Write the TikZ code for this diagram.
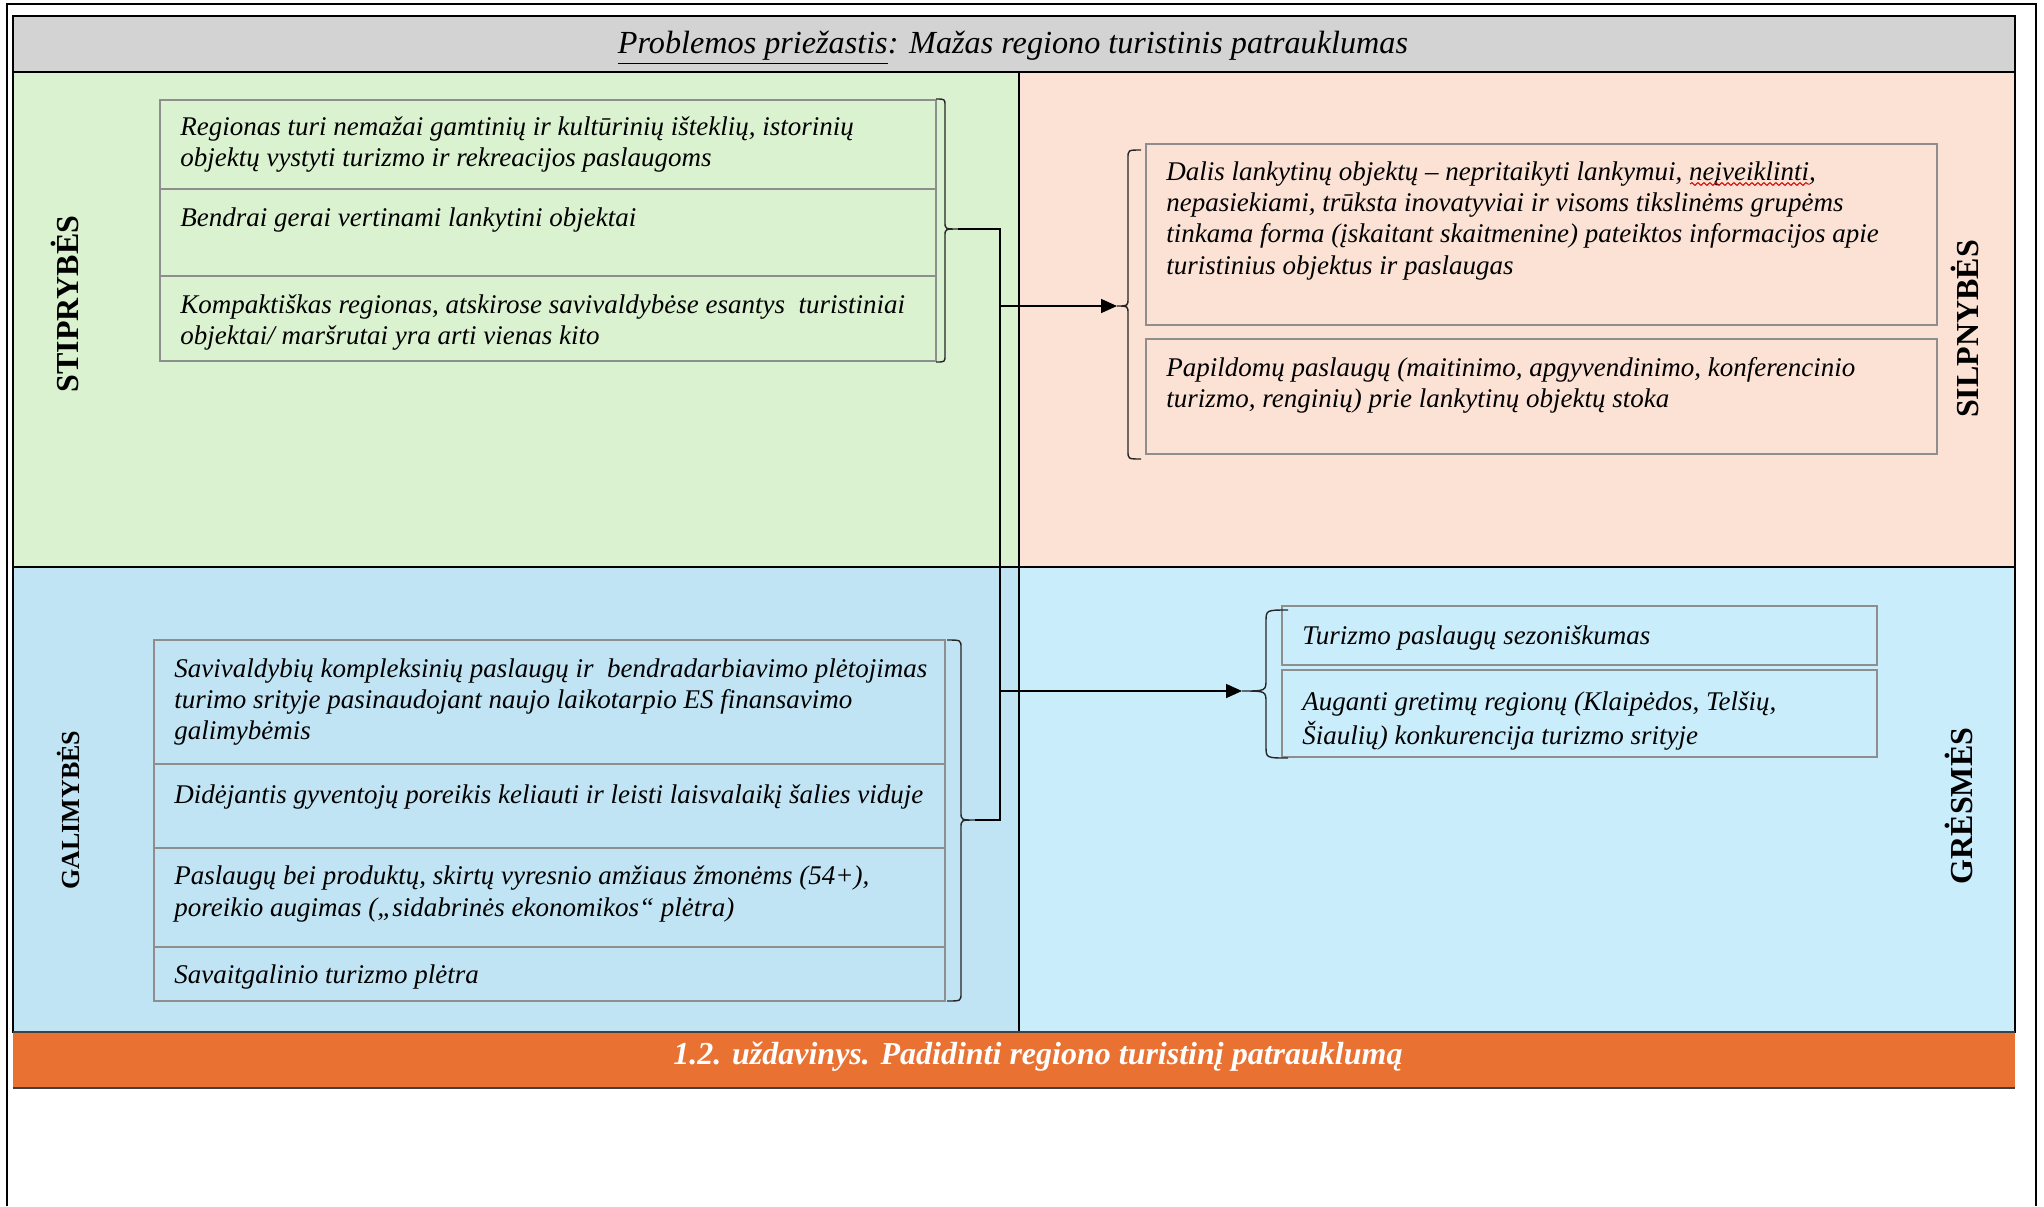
\documentclass[tikz,border=0pt]{standalone}
\usepackage{fontspec}
\setmainfont{Liberation Serif}
\usetikzlibrary{arrows.meta,decorations.pathmorphing}
\definecolor{hdrgray}{HTML}{D3D3D3}
\definecolor{sgreen}{HTML}{DAF2D0}
\definecolor{wpeach}{HTML}{FBE2D5}
\definecolor{oblue}{HTML}{C0E4F3}
\definecolor{tblue}{HTML}{CAEDFB}
\definecolor{borange}{HTML}{E97132}
\definecolor{boxgray}{HTML}{8E8E8E}
\newcommand\itemfont{\fontsize{13.5}{15.65}\selectfont\itshape}
\tikzset{
  itembox/.style={draw=boxgray, line width=0.8pt, inner sep=0pt, outer sep=0pt, anchor=north west},
  itemtxt/.style={anchor=north west, inner sep=0pt, align=left, font=\itemfont},
  quad/.style={draw=black, line width=0.6pt},
  sidelabel/.style={rotate=90, inner sep=0pt, font=\fontsize{16}{18}\selectfont\bfseries},
  bracketline/.style={draw=black!85, line width=0.7pt},
  conn/.style={draw=black, line width=0.75pt},
  arr/.style={conn, -{Triangle[length=8pt,width=7pt]}}
}
\begin{document}
\begin{tikzpicture}[x=0.5pt,y=-0.5pt]
\useasboundingbox (0,0) rectangle (2044,1206);
\fill[white] (0,0) rectangle (2044,1206);
% outer page frame
\draw[black, line width=0.8pt] (7,1206) -- (7,4) -- (2036,4) -- (2036,1206);
% quadrants
\path[quad, fill=hdrgray] (13,16) rectangle (2015,72);
\path[quad, fill=sgreen] (13,72) rectangle (1019,567);
\path[quad, fill=wpeach] (1019,72) rectangle (2015,567);
\path[quad, fill=oblue] (13,567) rectangle (1019,1032);
\path[quad, fill=tblue] (1019,567) rectangle (2015,1032);
\fill[borange] (13,1032) rectangle (2015,1088);
\draw[black!75, line width=1.2pt] (13,1032) -- (2015,1032);
\draw[black!75, line width=1.2pt] (13,1088) -- (2015,1088);
% header and footer text
\node[inner sep=0pt, font=\fontsize{16.1}{18}\selectfont\itshape] (hdr) at (1013,48)
  {\underline{Problemos priežastis}: Mažas regiono turistinis patrauklumas};
\node[inner sep=0pt, text=white, font=\fontsize{16}{18}\selectfont\bfseries\itshape] (ftr) at (1038,1057)
  {1.2. uždavinys. Padidinti regiono turistinį patrauklumą};
% side labels
\node[sidelabel] (lS) at (65,304) {STIPRYBĖS};
\node[sidelabel] (lW) at (1965,329) {SILPNYBĖS};
\node[sidelabel, font=\fontsize{13}{15}\selectfont\bfseries] (lO) at (68,810) {GALIMYBĖS};
\node[sidelabel] (lT) at (1959,806) {GRĖSMĖS};
% strengths
\node[itembox, fill=sgreen, minimum width=388pt, minimum height=44.5pt] (s1) at (160,100) {};
\node[itembox, fill=sgreen, minimum width=388pt, minimum height=43.5pt] (s2) at (160,189) {};
\node[itembox, fill=sgreen, minimum width=388pt, minimum height=42.5pt] (s3) at (160,276) {};
\node[itemtxt] (s1t) at ([shift={(10pt,-6.5pt)}]s1.north west)
  {\strut Regionas turi nemažai gamtinių ir kultūrinių išteklių, istorinių\\objektų vystyti turizmo ir rekreacijos paslaugoms};
\node[itemtxt] (s2t) at ([shift={(10pt,-7.5pt)}]s2.north west)
  {\strut Bendrai gerai vertinami lankytini objektai};
\node[itemtxt] (s3t) at ([shift={(10pt,-7.5pt)}]s3.north west)
  {\strut Kompaktiškas regionas, atskirose savivaldybėse esantys\ \ turistiniai\\objektai/ maršrutai yra arti vienas kito};
% weaknesses
\node[itembox, fill=wpeach, minimum width=395.5pt, minimum height=90.5pt] (p1) at (1146,144) {};
\node[itembox, fill=wpeach, minimum width=395.5pt, minimum height=57.5pt] (p2) at (1146,339) {};
\node[itemtxt] (p1t) at ([shift={(10pt,-7pt)}]p1.north west)
  {\strut Dalis lankytinų objektų – nepritaikyti lankymui, neįveiklinti,\\nepasiekiami, trūksta inovatyviai ir visoms tikslinėms grupėms\\tinkama forma (įskaitant skaitmenine) pateiktos informacijos apie\\turistinius objektus ir paslaugas};
\node[itemtxt] (p2t) at ([shift={(10pt,-7.5pt)}]p2.north west)
  {\strut Papildomų paslaugų (maitinimo, apgyvendinimo, konferencinio\\turizmo, renginių) prie lankytinų objektų stoka};
\draw[red!85!black, line width=0.5pt, decorate, decoration={snake, amplitude=0.7pt, segment length=3pt}] (1690,184) -- (1810,184);
% opportunities
\node[itembox, fill=oblue, minimum width=395.5pt, minimum height=62pt] (g1) at (154,640) {};
\node[itembox, fill=oblue, minimum width=395.5pt, minimum height=42pt] (g2) at (154,764) {};
\node[itembox, fill=oblue, minimum width=395.5pt, minimum height=49.5pt] (g3) at (154,848) {};
\node[itembox, fill=oblue, minimum width=395.5pt, minimum height=27pt] (g4) at (154,947) {};
\node[itemtxt] (g1t) at ([shift={(10pt,-7.5pt)}]g1.north west)
  {\strut Savivaldybių kompleksinių paslaugų ir\ \ bendradarbiavimo plėtojimas\\turimo srityje pasinaudojant naujo laikotarpio ES finansavimo\\galimybėmis};
\node[itemtxt] (g2t) at ([shift={(10pt,-8.5pt)}]g2.north west)
  {\strut Didėjantis gyventojų poreikis keliauti ir leisti laisvalaikį šalies viduje};
\node[itemtxt] (g3t) at ([shift={(10pt,-7.3pt)}]g3.north west)
  {\strut Paslaugų bei produktų, skirtų vyresnio amžiaus žmonėms (54+),\\poreikio augimas („sidabrinės ekonomikos“ plėtra)};
\node[itemtxt] (g4t) at ([shift={(10pt,-7.3pt)}]g4.north west)
  {\strut Savaitgalinio turizmo plėtra};
% threats
\node[itembox, fill=tblue, minimum width=297.5pt, minimum height=29.5pt] (t1) at (1282,606) {};
\node[itembox, fill=tblue, minimum width=297.5pt, minimum height=43.5pt] (t2) at (1282,670) {};
\node[itemtxt] (t1t) at ([shift={(10pt,-8pt)}]t1.north west)
  {\strut Turizmo paslaugų sezoniškumas};
\node[itemtxt] (t2t) at ([shift={(10pt,-9pt)}]t2.north west)
  {\strut Auganti gretimų regionų (Klaipėdos, Telšių,\\Šiaulių) konkurencija turizmo srityje};
% brackets
\coordinate (sTick) at (958,229);
\draw[bracketline] (936,99) .. controls (945,99) .. (945,106) -- (945,222)
  .. controls (945,229) .. (sTick) .. controls (945,229) .. (945,236) -- (945,355)
  .. controls (945,362) .. (936,362);
\coordinate (gTick) at (975,820);
\draw[bracketline] (947,640) .. controls (961,640) .. (961,648) -- (961,812)
  .. controls (961,820) .. (gTick) .. controls (961,820) .. (961,828) -- (961,993)
  .. controls (961,1001) .. (947,1001);
\coordinate (pTick) at (1117,306);
\draw[bracketline] (1141,150) .. controls (1128,150) .. (1128,158) -- (1128,298)
  .. controls (1128,306) .. (pTick) .. controls (1128,306) .. (1128,314) -- (1128,451)
  .. controls (1128,459) .. (1141,459);
\coordinate (tTick) at (1242,691);
\draw[bracketline] (1288,610) .. controls (1266,610) .. (1266,622) -- (1266,679)
  .. controls (1266,691) .. (tTick) .. controls (1266,691) .. (1266,703) -- (1266,746)
  .. controls (1266,758) .. (1288,758);
% connectors
\coordinate (jTop) at (1000,229);
\coordinate (jW) at (1000,306);
\coordinate (jT) at (1000,691);
\coordinate (jBot) at (1000,820);
\draw[conn] (sTick) -- (jTop) -- (jBot) -- (gTick);
\draw[arr] (jW) -- (pTick);
\draw[arr] (jT) -- (tTick);
\end{tikzpicture}
\end{document}
